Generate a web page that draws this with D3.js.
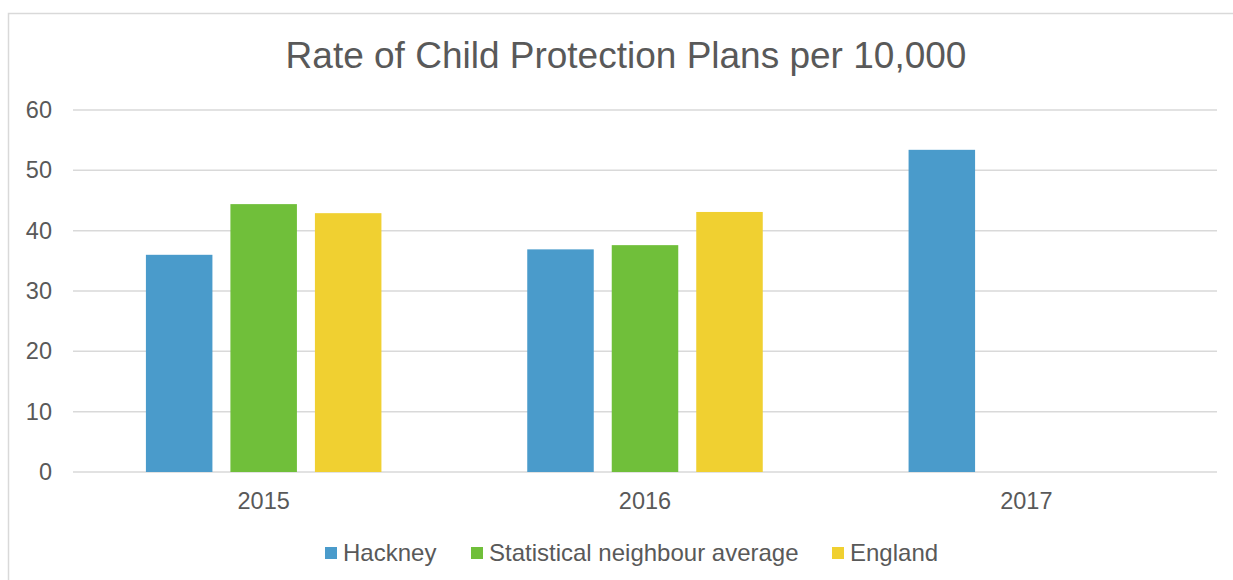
<!DOCTYPE html>
<html>
<head>
<meta charset="utf-8">
<script src="https://cdn.jsdelivr.net/npm/d3@7"></script>
<style>
  html, body { margin: 0; padding: 0; background: #fff; }
  svg { display: block; font-family: "Liberation Sans", Arial, sans-serif; }
</style>
</head>
<body>
<div id="plot"></div>
<script>
// chart data
const years = ["2015", "2016", "2017"];
const seriesNames = ["Hackney", "Statistical neighbour average", "England"];
const hackney = [36.0, 36.9, 53.4];
const statNeighbour = [44.4, 37.6, null];
const england = [42.9, 43.1, null];
const yTicks = [0, 10, 20, 30, 40, 50, 60];
const colours = ["#4A9BCB", "#70BF3A", "#F0D031"];

const width = 1233, height = 580;
const margin = { top: 110, right: 16, bottom: 108, left: 73 };
const textColour = "#595959";
const gridColour = "#D9D9D9";

const svg = d3.select("#plot").append("svg")
    .attr("width", width)
    .attr("height", height);

// chart frame
svg.append("rect")
    .attr("x", 8.5)
    .attr("y", 13.5)
    .attr("width", 1240)
    .attr("height", 600)
    .attr("fill", "#fff")
    .attr("stroke", gridColour)
    .attr("stroke-width", 1.5);

// title
svg.append("text")
    .attr("x", 626)
    .attr("y", 68)
    .attr("text-anchor", "middle")
    .attr("fill", textColour)
    .style("font-size", "37px")
    .text("Rate of Child Protection Plans per 10,000");

const x0 = d3.scaleBand()
    .domain(years)
    .range([margin.left, width - margin.right])
    .paddingInner(0)
    .paddingOuter(0);

const groupWidth = x0.bandwidth() * 0.6176;
const x1 = d3.scaleBand()
    .domain(seriesNames)
    .range([0, groupWidth])
    .paddingInner(0.213)
    .paddingOuter(0);

const y = d3.scaleLinear()
    .domain([0, 60])
    .range([472, 110]);

// gridlines
svg.append("g")
    .selectAll("line")
    .data(yTicks)
    .join("line")
    .attr("x1", margin.left)
    .attr("x2", width - margin.right)
    .attr("y1", d => y(d))
    .attr("y2", d => y(d))
    .attr("stroke", gridColour)
    .attr("stroke-width", 1.5);

// y axis labels
const yAxis = svg.append("g")
    .attr("transform", `translate(52,0)`)
    .call(d3.axisLeft(y).tickValues(yTicks).tickSize(0).tickPadding(0));
yAxis.select(".domain").remove();
yAxis.selectAll("text")
    .attr("fill", textColour)
    .style("font-size", "23.5px")
    .style("font-family", "Liberation Sans, Arial, sans-serif");

// x axis labels
const xAxis = svg.append("g")
    .attr("transform", `translate(0,${y(0)})`)
    .call(d3.axisBottom(x0).tickSize(0).tickPadding(20));
xAxis.select(".domain").remove();
xAxis.selectAll("text")
    .attr("fill", textColour)
    .style("font-size", "23.5px")
    .style("font-family", "Liberation Sans, Arial, sans-serif");

// bars
const seriesValues = [hackney, statNeighbour, england];
const barData = [];
years.forEach((yr, i) => {
    seriesNames.forEach((name, j) => {
        const v = seriesValues[j][i];
        if (v != null) barData.push({ year: yr, series: name, value: v, colour: colours[j] });
    });
});

svg.append("g")
    .selectAll("rect")
    .data(barData)
    .join("rect")
    .attr("x", d => x0(d.year) + (x0.bandwidth() - groupWidth) / 2 + x1(d.series))
    .attr("y", d => y(d.value))
    .attr("width", x1.bandwidth())
    .attr("height", d => y(0) - y(d.value))
    .attr("fill", d => d.colour);

// legend
const legendX = [325, 471, 832];
const legend = svg.append("g")
    .selectAll("g")
    .data(seriesNames)
    .join("g")
    .attr("transform", (d, i) => `translate(${legendX[i]},547)`);

legend.append("rect")
    .attr("width", 12)
    .attr("height", 12)
    .attr("fill", (d, i) => colours[i]);

legend.append("text")
    .attr("x", 18)
    .attr("y", 13.5)
    .attr("fill", textColour)
    .style("font-size", "24px")
    .text(d => d);
</script>
</body>
</html>
